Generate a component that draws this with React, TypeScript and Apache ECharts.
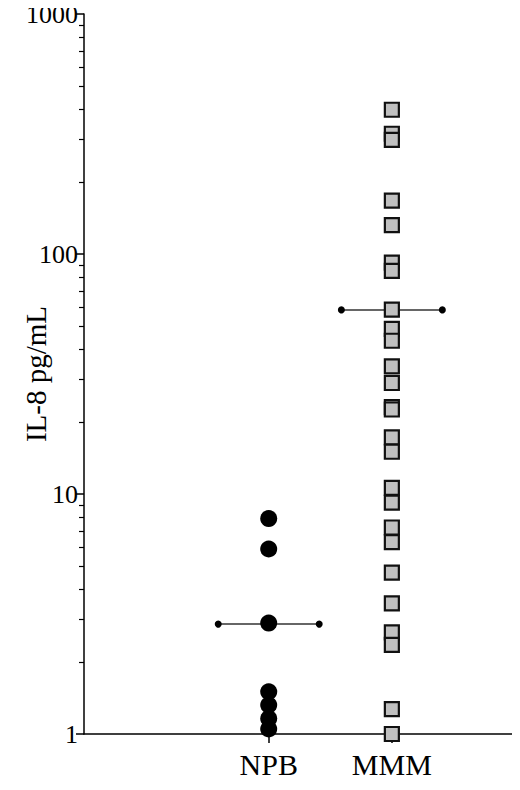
import React, { useEffect, useRef } from "react";
import * as echarts from "echarts";

const groupNames = ["NPB", "MMM"];
const groupPositions = [1.5, 2.5];
const npbValues = [7.9, 5.9, 2.9, 1.5, 1.32, 1.16, 1.05];
const mmmValues = [
  399, 317, 299, 167, 132, 92, 85, 58.7, 48.8, 43.5, 34, 29, 23, 22.5, 17.2, 15,
  10.6, 9.2, 7.25, 6.3, 4.7, 3.5, 2.65, 2.35, 1.27, 1.0,
];
const medians = [2.87, 58.5];
const yMajorTicks = [1, 10, 100, 1000];
const yMinorTicks = [2, 3, 4, 5, 6, 7, 8, 9, 20, 30, 40, 50, 60, 70, 80, 90, 200, 300, 400, 500, 600, 700, 800, 900];

const MEDIAN_HALF_WIDTH = 0.41;
const FONT = "'Liberation Serif', 'Times New Roman', serif";

export default function App() {
  const ref = useRef<HTMLDivElement>(null);
  useEffect(() => {
    if (!ref.current) return;
    const chart = echarts.init(ref.current, undefined, { renderer: "svg" });
    const medianSeries = groupPositions.map((x, i) => ({
      type: "line",
      xAxisIndex: 0,
      yAxisIndex: 0,
      data: [
        [x - MEDIAN_HALF_WIDTH, medians[i]],
        [x + MEDIAN_HALF_WIDTH, medians[i]],
      ],
      symbol: "circle",
      symbolSize: 7,
      showSymbol: true,
      lineStyle: { color: "#333", width: 1.5 },
      itemStyle: { color: "#000", opacity: 1 },
      z: 1,
      silent: true,
    }));
    chart.setOption({
      animation: false,
      grid: { left: 84, right: 5, top: 14, bottom: 56, outerBoundsMode: "none", containLabel: false },
      xAxis: [
        {
          type: "value",
          min: 0,
          max: 3.5,
          axisLine: { show: true, onZero: false, lineStyle: { color: "#000", width: 1.5 } },
          axisTick: {
            show: true,
            customValues: [...groupPositions, 3.5],
            length: 9,
            lineStyle: { color: "#000", width: 1.5 },
          },
          axisLabel: {
            customValues: groupPositions,
            formatter: (v: number) => groupNames[groupPositions.indexOf(v)] ?? "",
            color: "#000",
            fontFamily: FONT,
            fontSize: 30,
            margin: 15,
          },
          splitLine: { show: false },
        },
        {
          type: "value",
          min: 0,
          max: 3.5,
          position: "bottom",
          axisLine: { show: false },
          axisTick: {
            show: true,
            inside: true,
            customValues: [3.5],
            length: 12,
            lineStyle: { color: "#000", width: 1.5 },
          },
          axisLabel: { show: false },
          splitLine: { show: false },
        },
      ],
      yAxis: [
        {
          type: "log",
          logBase: 10,
          min: 1,
          max: 1000,
          name: "IL-8 pg/mL",
          nameLocation: "middle",
          nameGap: 34,
          nameRotate: 90,
          nameMoveOverlap: false,
          nameTextStyle: { color: "#000", fontFamily: FONT, fontSize: 29 },
          axisLine: { show: true, lineStyle: { color: "#000", width: 1.5 } },
          axisTick: {
            show: true,
            customValues: yMajorTicks,
            length: 8,
            lineStyle: { color: "#000", width: 1.5 },
          },
          axisLabel: {
            customValues: yMajorTicks,
            formatter: (v: number) => String(v),
            color: "#000",
            fontFamily: FONT,
            fontSize: 26,
            margin: 6,
          },
          splitLine: { show: false },
        },
        {
          type: "log",
          logBase: 10,
          min: 1,
          max: 1000,
          position: "left",
          axisLine: { show: false },
          axisTick: {
            show: true,
            customValues: yMinorTicks,
            length: 5,
            lineStyle: { color: "#000", width: 1.2 },
          },
          axisLabel: { show: false },
          splitLine: { show: false },
        },
      ],
      series: [
        ...medianSeries,
        {
          type: "scatter",
          name: groupNames[0],
          data: npbValues.map((v) => [groupPositions[0], v]),
          symbol: "circle",
          symbolSize: 17,
          itemStyle: { color: "#000", opacity: 1 },
          z: 3,
        },
        {
          type: "scatter",
          name: groupNames[1],
          data: mmmValues.map((v) => [groupPositions[1], v]),
          symbol: "rect",
          symbolSize: 14,
          itemStyle: { color: "#c0c0c0", borderColor: "#111", borderWidth: 2.2, opacity: 1 },
          z: 3,
        },
      ],
    });
    return () => chart.dispose();
  }, []);
  return <div ref={ref} style={{ width: 520, height: 790, margin: -8 }} />;
}
